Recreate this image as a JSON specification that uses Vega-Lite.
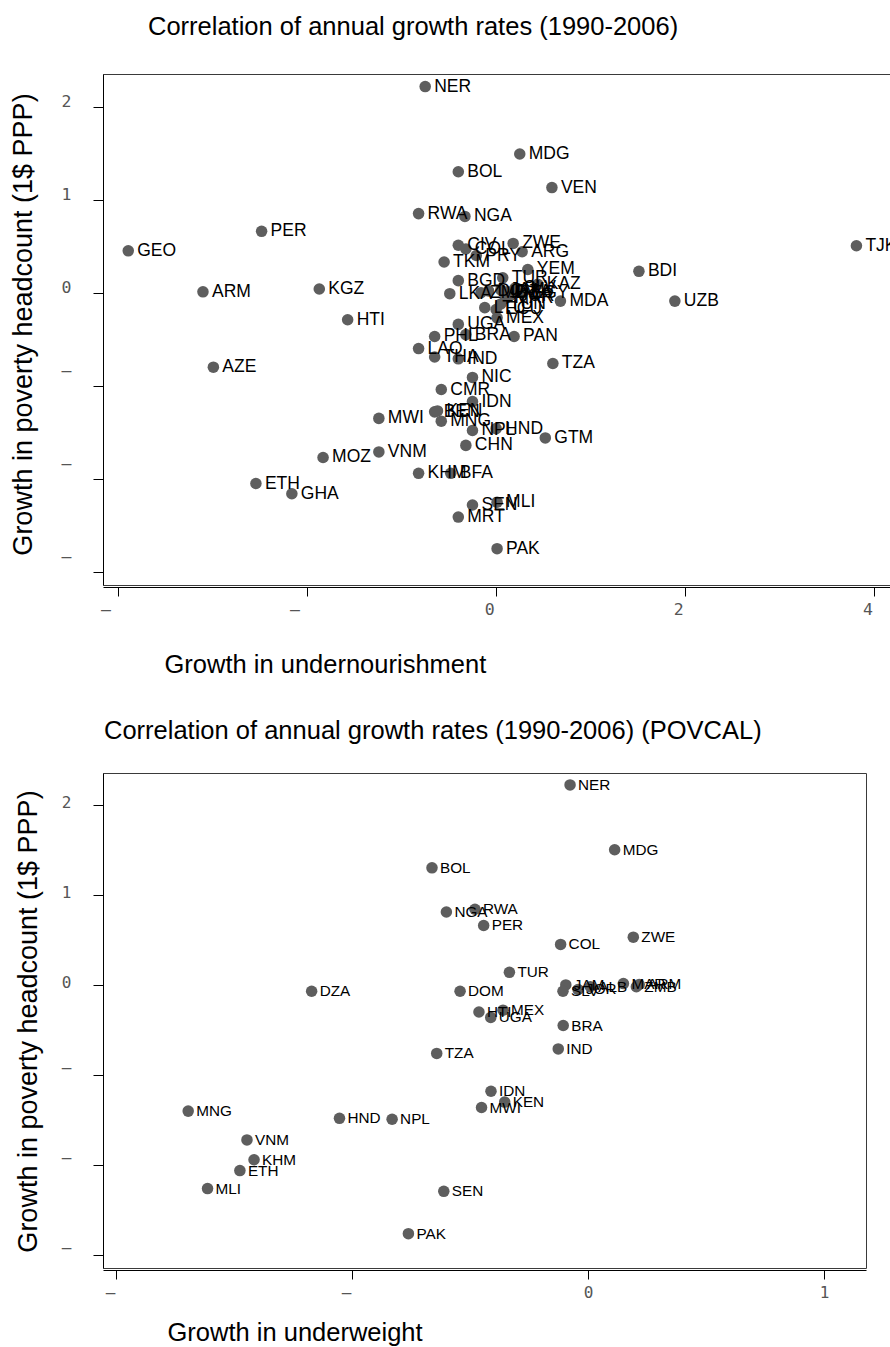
{
  "$schema": "https://vega.github.io/schema/vega-lite/v6.json",
  "background": "white",
  "padding": {"left": 8, "top": 14, "right": 0, "bottom": 0},
  "bounds": "flush",
  "spacing": 188,
  "config": {
    "font": "Liberation Sans",
    "view": {"stroke": "#3a3a3a", "strokeWidth": 1},
    "axis": {"grid": false}
  },
  "datasets": {
    "p1": [
      {"c": "NER", "x": -0.75, "y": 2.215},
      {"c": "MDG", "x": 0.25, "y": 1.49},
      {"c": "BOL", "x": -0.40, "y": 1.30},
      {"c": "VEN", "x": 0.59, "y": 1.13},
      {"c": "RWA", "x": -0.82, "y": 0.85},
      {"c": "NGA", "x": -0.33, "y": 0.82},
      {"c": "PER", "x": -2.48, "y": 0.66},
      {"c": "GEO", "x": -3.89, "y": 0.45},
      {"c": "TJK", "x": 3.81, "y": 0.505},
      {"c": "CIV", "x": -0.40, "y": 0.51},
      {"c": "COL", "x": -0.32, "y": 0.47},
      {"c": "PRY", "x": -0.21, "y": 0.40},
      {"c": "ARG", "x": 0.275, "y": 0.44},
      {"c": "ZWE", "x": 0.18, "y": 0.53},
      {"c": "TKM", "x": -0.55, "y": 0.33},
      {"c": "YEM", "x": 0.335, "y": 0.25},
      {"c": "BDI", "x": 1.51, "y": 0.23},
      {"c": "BGD", "x": -0.40, "y": 0.13},
      {"c": "TUR", "x": 0.07, "y": 0.16},
      {"c": "KAZ", "x": 0.44, "y": 0.09},
      {"c": "ARM", "x": -3.10, "y": 0.01},
      {"c": "KGZ", "x": -1.87, "y": 0.04},
      {"c": "LKA", "x": -0.49, "y": -0.01},
      {"c": "ZMB", "x": -0.16, "y": 0.00},
      {"c": "DOM", "x": -0.08, "y": 0.02},
      {"c": "JAM", "x": 0.05, "y": 0.03},
      {"c": "SLV", "x": 0.20, "y": 0.05},
      {"c": "DZA", "x": 0.12, "y": 0.01},
      {"c": "EGY", "x": 0.28, "y": 0.00},
      {"c": "JOR", "x": 0.15, "y": -0.03},
      {"c": "MAR", "x": 0.10, "y": -0.06},
      {"c": "TUN", "x": 0.05, "y": -0.12},
      {"c": "ECU", "x": 0.00, "y": -0.18},
      {"c": "LTU", "x": -0.12, "y": -0.16},
      {"c": "UZB", "x": 1.89, "y": -0.09},
      {"c": "MDA", "x": 0.68, "y": -0.09},
      {"c": "HTI", "x": -1.57, "y": -0.29},
      {"c": "MEX", "x": 0.01, "y": -0.27},
      {"c": "UGA", "x": -0.40, "y": -0.34},
      {"c": "BRA", "x": -0.32, "y": -0.45},
      {"c": "PHL", "x": -0.65, "y": -0.47},
      {"c": "PAN", "x": 0.19, "y": -0.47},
      {"c": "LAO", "x": -0.82, "y": -0.60},
      {"c": "THA", "x": -0.65, "y": -0.69},
      {"c": "IND", "x": -0.40, "y": -0.71},
      {"c": "TZA", "x": 0.60, "y": -0.76},
      {"c": "AZE", "x": -2.99, "y": -0.80},
      {"c": "NIC", "x": -0.25, "y": -0.91},
      {"c": "CMR", "x": -0.58, "y": -1.04},
      {"c": "IDN", "x": -0.25, "y": -1.17},
      {"c": "BEN", "x": -0.65, "y": -1.28},
      {"c": "KEN", "x": -0.62, "y": -1.27},
      {"c": "MWI", "x": -1.24, "y": -1.35},
      {"c": "MNG", "x": -0.58, "y": -1.38},
      {"c": "NPL", "x": -0.25, "y": -1.48},
      {"c": "HND", "x": 0.00, "y": -1.46},
      {"c": "GTM", "x": 0.52, "y": -1.56},
      {"c": "CHN", "x": -0.32, "y": -1.64},
      {"c": "VNM", "x": -1.24, "y": -1.71},
      {"c": "MOZ", "x": -1.83, "y": -1.77},
      {"c": "KHM", "x": -0.82, "y": -1.94},
      {"c": "BFA", "x": -0.48, "y": -1.94},
      {"c": "ETH", "x": -2.54, "y": -2.05},
      {"c": "GHA", "x": -2.16, "y": -2.16},
      {"c": "MLI", "x": 0.01, "y": -2.25},
      {"c": "SEN", "x": -0.25, "y": -2.28},
      {"c": "MRT", "x": -0.40, "y": -2.41},
      {"c": "PAK", "x": 0.01, "y": -2.75}
    ],
    "p2": [
      {"c": "NER", "x": -0.076, "y": 2.22},
      {"c": "MDG", "x": 0.113, "y": 1.50},
      {"c": "BOL", "x": -0.661, "y": 1.30},
      {"c": "NGA", "x": -0.60, "y": 0.81},
      {"c": "RWA", "x": -0.479, "y": 0.84},
      {"c": "PER", "x": -0.442, "y": 0.66},
      {"c": "COL", "x": -0.116, "y": 0.45},
      {"c": "ZWE", "x": 0.192, "y": 0.53},
      {"c": "TUR", "x": -0.333, "y": 0.14},
      {"c": "DOM", "x": -0.542, "y": -0.07},
      {"c": "DZA", "x": -1.171, "y": -0.07},
      {"c": "JAM", "x": -0.094, "y": 0.00},
      {"c": "SLV", "x": -0.106, "y": -0.07},
      {"c": "JOR", "x": -0.042, "y": -0.05},
      {"c": "ALB", "x": 0.010, "y": -0.02},
      {"c": "MAR", "x": 0.150, "y": 0.015},
      {"c": "ARM", "x": 0.217, "y": 0.005},
      {"c": "ZMB", "x": 0.205, "y": -0.02},
      {"c": "HTI", "x": -0.462, "y": -0.30},
      {"c": "MEX", "x": -0.36, "y": -0.28},
      {"c": "UGA", "x": -0.412, "y": -0.36},
      {"c": "BRA", "x": -0.105, "y": -0.45},
      {"c": "IND", "x": -0.126, "y": -0.71},
      {"c": "TZA", "x": -0.641, "y": -0.76},
      {"c": "IDN", "x": -0.411, "y": -1.18},
      {"c": "KEN", "x": -0.353, "y": -1.30},
      {"c": "MWI", "x": -0.451, "y": -1.36},
      {"c": "MNG", "x": -1.694, "y": -1.40},
      {"c": "HND", "x": -1.053, "y": -1.48},
      {"c": "NPL", "x": -0.830, "y": -1.49},
      {"c": "VNM", "x": -1.445, "y": -1.72},
      {"c": "KHM", "x": -1.415, "y": -1.94},
      {"c": "ETH", "x": -1.475, "y": -2.06},
      {"c": "MLI", "x": -1.612, "y": -2.26},
      {"c": "SEN", "x": -0.611, "y": -2.29},
      {"c": "PAK", "x": -0.761, "y": -2.76}
    ]
  },
  "vconcat": [
    {
      "width": 787,
      "height": 511,
      "title": {"text": "Correlation of annual growth rates (1990-2006)", "anchor": "start", "frame": "group", "dx": 45, "offset": 14, "baseline": "alphabetic", "fontSize": 25.5, "font": "Liberation Sans", "fontWeight": "normal", "color": "#000"},
      "data": {"name": "p1"},
      "encoding": {
        "x": {"field": "x", "type": "quantitative",
          "scale": {"domain": [-4.157, 4.165], "nice": false, "zero": false},
          "axis": {"title": "Growth in undernourishment", "values": [-4, -2, 0, 2, 4], "offset": 2,
            "domainColor": "#000", "domainWidth": 1, "tickColor": "#000", "tickSize": 9,
            "labelFont": "DejaVu Sans Mono", "labelFontSize": 16.5, "labelColor": "#555", "labelBaseline": "top", "labelPadding": 5,
            "labelOverlap": false, "labelFlush": false,
            "labelExpr": "datum.value < 0 ? '–' : datum.label",
            "labelOffset": {"condition": {"test": "datum.value < 0", "value": -12.5}, "value": -7},
            "titleFont": "Liberation Sans", "titleFontSize": 25.5, "titleFontWeight": "normal", "titleColor": "#000",
            "titleAlign": "left", "titleBaseline": "alphabetic", "titleX": 61, "titleY": 85}},
        "y": {"field": "y", "type": "quantitative",
          "scale": {"domain": [-3.14, 2.35], "nice": false, "zero": false},
          "axis": {"title": "Growth in poverty headcount (1$ PPP)", "values": [-3, -2, -1, 0, 1, 2],
            "domainColor": "#000", "domainWidth": 1, "tickColor": "#000", "tickSize": 10,
            "labelFont": "DejaVu Sans Mono", "labelFontSize": 16.5, "labelColor": "#555", "labelAlign": "center", "labelBaseline": "middle", "labelPadding": 27,
            "labelOverlap": false, "labelFlush": false,
            "labelExpr": "datum.value < 0 ? '–' : datum.label",
            "labelOffset": {"condition": {"test": "datum.value < 0", "value": -15}, "value": -5},
            "titleFont": "Liberation Sans", "titleFontSize": 27, "titleFontWeight": "normal", "titleColor": "#000",
            "titleAlign": "center", "titleBaseline": "alphabetic", "titleAngle": 270, "titleX": -72, "titleY": 250}}
      },
      "layer": [
        {"mark": {"type": "point", "filled": true, "shape": "circle", "size": 133, "color": "#5e5e5e", "opacity": 1, "strokeWidth": 0}},
        {"mark": {"type": "text", "align": "left", "baseline": "middle", "dx": 9, "fontSize": 17.5, "font": "Liberation Sans", "color": "#000"},
         "encoding": {"text": {"field": "c"}}}
      ]
    },
    {
      "width": 763,
      "height": 495,
      "title": {"text": "Correlation of annual growth rates (1990-2006) (POVCAL)", "anchor": "start", "frame": "group", "dx": 1, "offset": 9, "baseline": "alphabetic", "fontSize": 25.5, "font": "Liberation Sans", "fontWeight": "normal", "color": "#000"},
      "data": {"name": "p2"},
      "encoding": {
        "x": {"field": "x", "type": "quantitative",
          "scale": {"domain": [-2.055, 1.178], "nice": false, "zero": false},
          "axis": {"title": "Growth in underweight", "values": [-2, -1, 0, 1], "offset": 2,
            "domainColor": "#000", "domainWidth": 1, "tickColor": "#000", "tickSize": 9,
            "labelFont": "DejaVu Sans Mono", "labelFontSize": 16, "labelColor": "#555", "labelBaseline": "top", "labelPadding": 5,
            "labelOverlap": false, "labelFlush": false,
            "labelExpr": "datum.value < 0 ? '–' : datum.label",
            "labelOffset": {"condition": {"test": "datum.value < 0", "value": -6}, "value": 0},
            "titleFont": "Liberation Sans", "titleFontSize": 25.5, "titleFontWeight": "normal", "titleColor": "#000",
            "titleAlign": "left", "titleBaseline": "alphabetic", "titleX": 64, "titleY": 70}},
        "y": {"field": "y", "type": "quantitative",
          "scale": {"domain": [-3.141, 2.352], "nice": false, "zero": false},
          "axis": {"title": "Growth in poverty headcount (1$ PPP)", "values": [-3, -2, -1, 0, 1, 2],
            "domainColor": "#000", "domainWidth": 1, "tickColor": "#000", "tickSize": 10,
            "labelFont": "DejaVu Sans Mono", "labelFontSize": 16, "labelColor": "#555", "labelAlign": "center", "labelBaseline": "middle", "labelPadding": 27,
            "labelOverlap": false, "labelFlush": false,
            "labelExpr": "datum.value < 0 ? '–' : datum.label",
            "labelOffset": {"condition": {"test": "datum.value < 0", "value": -8}, "value": -2},
            "titleFont": "Liberation Sans", "titleFontSize": 27, "titleFontWeight": "normal", "titleColor": "#000",
            "titleAlign": "center", "titleBaseline": "alphabetic", "titleAngle": 270, "titleX": -67, "titleY": 248}}
      },
      "layer": [
        {"mark": {"type": "point", "filled": true, "shape": "circle", "size": 133, "color": "#5e5e5e", "opacity": 1, "strokeWidth": 0}},
        {"mark": {"type": "text", "align": "left", "baseline": "middle", "dx": 8, "fontSize": 15.3, "font": "Liberation Sans", "color": "#000"},
         "encoding": {"text": {"field": "c"}}}
      ]
    }
  ]
}
